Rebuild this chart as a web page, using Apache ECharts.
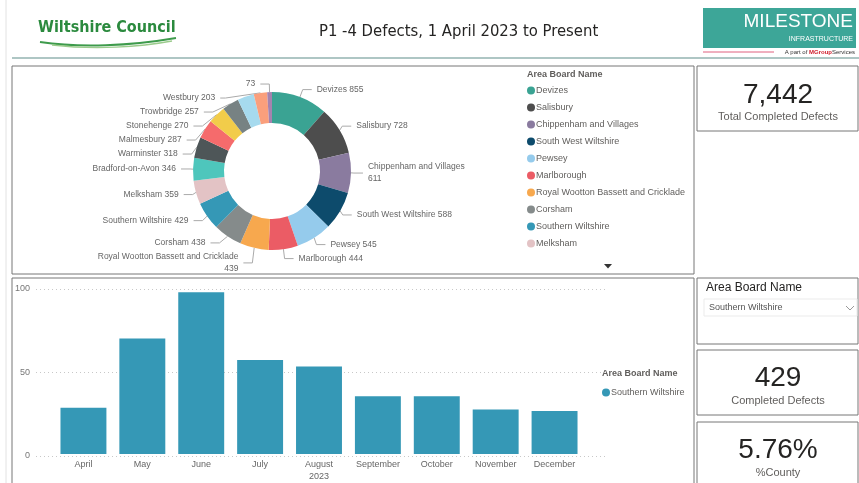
<!DOCTYPE html>
<html><head><meta charset="utf-8">
<script src="https://cdn.jsdelivr.net/npm/echarts/dist/echarts.min.js"></script>
<style>html,body{margin:0;padding:0;background:#fff}#c{width:859px;height:483px}</style>
</head><body><div id="c"></div>
<script>
// ---------- data ----------
const areaNames = ['Devizes','Salisbury','Chippenham and Villages','South West Wiltshire','Pewsey','Marlborough',
  'Royal Wootton Bassett and Cricklade','Corsham','Southern Wiltshire','Melksham','Bradford-on-Avon','Warminster',
  'Malmesbury','Stonehenge','Trowbridge','Calne','Westbury','Tidworth'];
const areaDefects = [855,728,611,588,545,444,439,438,429,359,346,318,287,270,257,252,203,73];
const legendCount = 10;            // legend shows first page only
const hiddenLabelAreas = ['Calne']; // label not shown in the report
const valueOnlyLabelAreas = ['Tidworth'];
const months = ['April','May','June','July','August','September','October','November','December'];
const yearLabel = '2023';
const monthlyDefects = [28,70,98,57,53,35,35,27,26];
const selectedArea = 'Southern Wiltshire';
const totalCompleted = 7442;
const yMin = 0, yMax = 100, yStep = 50;
const reportTitle = 'P1 -4 Defects, 1 April 2023 to Present';

// ---------- styles ----------
const areaColors = ['#3AA393','#4D4D4D','#8A7B9F','#0D4B6C','#95CBEC','#EB5C65','#F7A84E','#858B8B','#3598B6',
  '#E3C3C5','#4EC6BC','#4E5658','#F56B6C','#F2CC4A','#778283','#A6DAEE','#FA9F7C','#A583AF'];
const FONT = "'Liberation Sans', Arial, sans-serif";
const NARROW = "'Liberation Sans Narrow', 'DejaVu Sans Condensed', 'Liberation Sans', sans-serif";
const borderCol = '#777';

const selectedCount = monthlyDefects.reduce((a,b)=>a+b,0);
const pct = (selectedCount/totalCompleted*100).toFixed(2)+'%';
const fmtNum = n => n.toLocaleString('en-GB');

const pieData = areaNames.map((n,i)=>{
  const d = {name:n, value:areaDefects[i], itemStyle:{color:areaColors[i]}};
  if (hiddenLabelAreas.includes(n)) { d.label={show:false}; d.labelLine={show:false}; }
  if (valueOnlyLabelAreas.includes(n)) { d.label={formatter:'{c}'}; }
  return d;
});
const midIdx = Math.floor(months.length/2);

const chart = echarts.init(document.getElementById('c'), null, {renderer:'canvas'});
const rect = (x,y,w,h,extra) => Object.assign({type:'rect', shape:{x,y,width:w,height:h}, style:{fill:'none', stroke:borderCol, lineWidth:1}, silent:true}, extra||{});
const txt = (x,y,text,style) => ({type:'text', x, y, silent:true, style:Object.assign({text, fontFamily:FONT, fill:'#252423', textVerticalAlign:'middle', textAlign:'left'}, style)});

chart.setOption({
  animation:false,
  title:{ text: reportTitle, left: 314, top: 18, textStyle:{fontFamily:NARROW, fontSize:16.5, fontWeight:'normal', color:'#252423'} },
  color: areaColors,
  legend:[
    { data: areaNames.slice(0,legendCount), orient:'vertical', left:522, top:81, icon:'circle', itemWidth:8, itemHeight:8, itemGap:8,
      textStyle:{fontFamily:FONT, fontSize:9, color:'#605E5C', padding:[0,0,0,-4]}, selectedMode:false },
    { data:[selectedArea], orient:'vertical', left:597, top:383, icon:'circle', itemWidth:8, itemHeight:8,
      textStyle:{fontFamily:FONT, fontSize:9, color:'#605E5C', padding:[0,0,0,-4]}, selectedMode:false }
  ],
  grid:[
    {left:36, right:254, top:289, bottom:27},
    {left:54, right:275, top:289, bottom:27}
  ],
  xAxis:[
    {gridIndex:0, type:'value', show:false, min:0, max:1},
    {gridIndex:1, type:'category', data:months, axisLine:{show:false}, axisTick:{show:false},
      axisLabel:{fontFamily:FONT, fontSize:9, color:'#666', margin:5, lineHeight:12,
        formatter:(v,i)=> i===midIdx ? v+'\n'+yearLabel : v}}
  ],
  yAxis:[
    {gridIndex:0, type:'value', min:yMin, max:yMax, interval:yStep, axisLine:{show:false}, axisTick:{show:false},
      axisLabel:{fontFamily:FONT, fontSize:9, color:'#777', margin:6},
      splitLine:{lineStyle:{type:[1,3], color:'#c8c8c8'}}},
    {gridIndex:1, type:'value', min:yMin, max:yMax, interval:yStep, show:false, splitLine:{show:false}}
  ],
  series:[
    { type:'pie', name:'Area Board Name', center:[272,171], radius:[48,79], startAngle:90, clockwise:true,
      avoidLabelOverlap:true, data:pieData,
      label:{fontFamily:FONT, fontSize:8.5, color:'#666', lineHeight:12,
        formatter:p=> (p.name.length>20 ? p.name+'\n' : p.name+' ')+p.value},
      labelLine:{length:8, length2:9, lineStyle:{color:'#aaa', width:1}},
      emphasis:{disabled:true}
    },
    { type:'bar', name:selectedArea, xAxisIndex:1, yAxisIndex:1, data:monthlyDefects, barCategoryGap:'22%',
      itemStyle:{color:areaColors[areaNames.indexOf(selectedArea)]}, emphasis:{disabled:true} }
  ],
  graphic:[
    // page frame lines
    {type:'line', shape:{x1:6,y1:0,x2:6,y2:483}, style:{stroke:'#e2e2e2', lineWidth:1}, silent:true},
    {type:'line', shape:{x1:12,y1:58,x2:859,y2:58}, style:{stroke:'#5E8E8A', lineWidth:1.2}, silent:true},
    // Wiltshire Council logo
    txt(38,28,'Wiltshire Council',{fontFamily:NARROW, fontSize:16, fontWeight:'bold', fill:'#2B8A3E'}),
    {type:'bezierCurve', shape:{x1:40,y1:42,cpx1:80,cpy1:48,cpx2:130,cpy2:46,x2:176,y2:38}, style:{stroke:'#3E9B4C', lineWidth:1.8, fill:'none'}, silent:true},
    {type:'bezierCurve', shape:{x1:52,y1:45,cpx1:95,cpy1:50,cpx2:140,cpy2:47,x2:172,y2:41}, style:{stroke:'#9BCB8C', lineWidth:1.3, fill:'none'}, silent:true},
    // Milestone logo
    rect(703,8,153,40,{style:{fill:'#3DA698', stroke:'none'}}),
    txt(853,22,'MILESTONE',{fontFamily:FONT, fontSize:19, fill:'#fff', textAlign:'right'}),
    txt(853,39,'INFRASTRUCTURE',{fontFamily:FONT, fontSize:7, fill:'#fff', textAlign:'right'}),
    {type:'line', shape:{x1:703,y1:52,x2:774,y2:52}, style:{stroke:'#E0607E', lineWidth:1}, silent:true},
    {type:'text', x:855, y:52, silent:true, style:{text:'A part of {m|MGroup}Services', fontFamily:FONT, fontSize:6, fill:'#333', textAlign:'right', textVerticalAlign:'middle',
      rich:{m:{fontFamily:FONT, fontSize:6, fontWeight:'bold', fill:'#D0202E'}}}},
    // panels
    rect(12,66,682,208),
    rect(12,278,682,215),
    rect(697,66,161,65),
    rect(697,278,161,66),
    rect(697,350,161,65),
    rect(697,422,161,70),
    // donut legend title + scroll arrow
    txt(527,75,'Area Board Name',{fontSize:9, fontWeight:'bold', fill:'#605E5C'}),
    {type:'polygon', shape:{points:[[604,264],[612,264],[608,268.5]]}, style:{fill:'#333'}, silent:true},
    // bar legend title
    txt(602,374,'Area Board Name',{fontSize:9, fontWeight:'bold', fill:'#605E5C'}),
    // KPI cards
    txt(778,95,fmtNum(totalCompleted),{fontSize:28, textAlign:'center'}),
    txt(778,117,'Total Completed Defects',{fontSize:11, fill:'#605E5C', textAlign:'center'}),
    txt(778,378,fmtNum(selectedCount),{fontSize:28, textAlign:'center'}),
    txt(778,401,'Completed Defects',{fontSize:11, fill:'#605E5C', textAlign:'center'}),
    txt(778,450,pct,{fontSize:28, textAlign:'center'}),
    txt(778,473,'%County',{fontSize:11, fill:'#605E5C', textAlign:'center'}),
    // slicer
    txt(706,288,'Area Board Name',{fontSize:12, fill:'#252423'}),
    rect(704,299,153,17,{style:{fill:'#fff', stroke:'#ebebeb', lineWidth:1}}),
    txt(709,308,selectedArea,{fontSize:9, fill:'#555'}),
    {type:'polyline', shape:{points:[[846,306],[850,310],[854,306]]}, style:{stroke:'#999', lineWidth:1, fill:'none'}, silent:true}
  ]
});
</script></body></html>
